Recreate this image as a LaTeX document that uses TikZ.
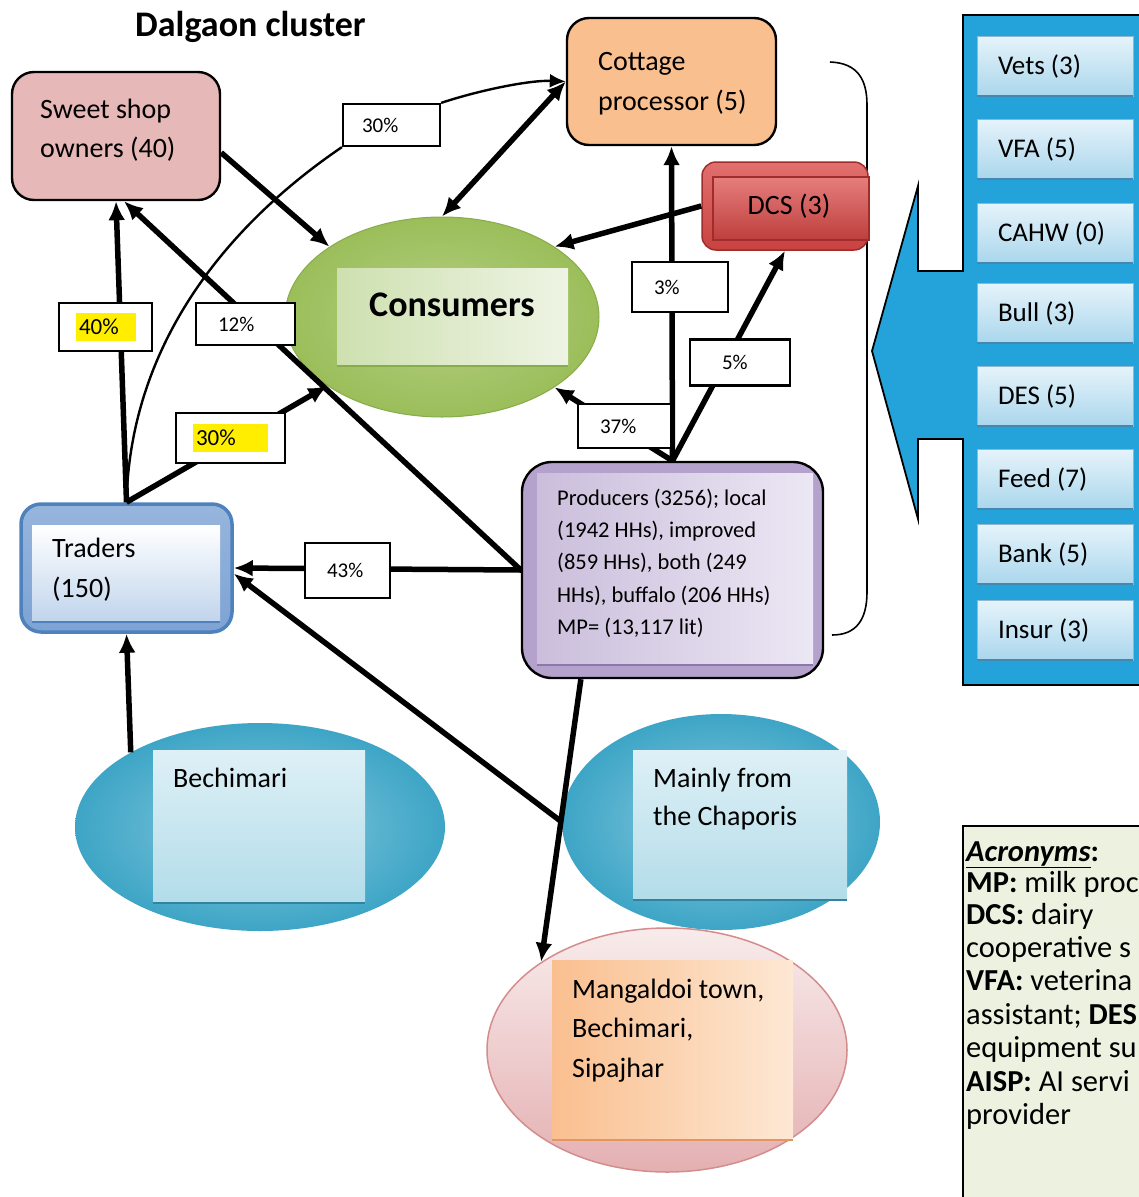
\documentclass[tikz,border=0pt]{standalone}
\usepackage{fontspec}
\setmainfont{Carlito}
\usetikzlibrary{arrows.meta,shapes.geometric,calc}

\definecolor{sweetfill}{RGB}{230,184,183}
\definecolor{cottfill}{RGB}{250,191,143}
\definecolor{dcsred}{RGB}{200,66,64}
\definecolor{dcslight}{RGB}{226,112,110}
\definecolor{dcsedge}{RGB}{160,44,44}
\definecolor{consgreen}{RGB}{155,190,90}
\definecolor{consedge}{RGB}{135,172,75}
\definecolor{conslight}{RGB}{238,244,228}
\definecolor{consmid}{RGB}{206,224,176}
\definecolor{prodfill}{RGB}{180,162,204}
\definecolor{prodlight}{RGB}{236,231,244}
\definecolor{prodedge}{RGB}{140,118,170}
\definecolor{tradeedge}{RGB}{79,129,189}
\definecolor{trademid}{RGB}{125,163,212}
\definecolor{tradelight}{RGB}{192,212,236}
\definecolor{ellteal}{RGB}{62,165,198}
\definecolor{elllight}{RGB}{135,202,222}
\definecolor{boxcyan}{RGB}{222,240,246}
\definecolor{boxcyandark}{RGB}{160,212,228}
\definecolor{pinkfill}{RGB}{244,222,222}
\definecolor{pinkdark}{RGB}{228,176,178}
\definecolor{pinkedge}{RGB}{212,140,140}
\definecolor{orangelight}{RGB}{253,232,212}
\definecolor{orangeedge}{RGB}{228,150,96}
\definecolor{panelblue}{RGB}{36,162,218}
\definecolor{sidetop}{RGB}{230,244,251}
\definecolor{sidebot}{RGB}{170,214,236}
\definecolor{sideedge}{RGB}{70,135,175}
\definecolor{acrofill}{RGB}{236,241,224}
\definecolor{hilite}{RGB}{255,238,0}

\newcommand\fmain{\fontsize{28}{34}\selectfont}
\newcommand\fprod{\fontsize{22.5}{27}\selectfont}
\newcommand\fpct{\fontsize{21}{25}\selectfont}
\newcommand\fpcthi{\fontsize{23}{27}\selectfont}
\newcommand\ftitle{\fontsize{36}{42}\selectfont\bfseries}
\newcommand\fcons{\fontsize{36}{42}\selectfont\bfseries}
\newcommand\fside{\fontsize{27}{32}\selectfont}
\newcommand\facro{\fontsize{30.5}{33}\selectfont}

\begin{document}
\begin{tikzpicture}[x=1pt,y=-1pt,
  flow/.style={line width=5.5pt,-{Latex[length=19pt,width=17pt]}},
  flowboth/.style={line width=5.5pt,{Latex[length=19pt,width=17pt]}-{Latex[length=19pt,width=17pt]}},
  thinline/.style={line width=2.4pt},
  thinflow/.style={line width=2.4pt,-{Latex[length=16pt,width=14pt]}},
  txt/.style={anchor=base west,inner sep=0pt,font=\fmain},
  ptxt/.style={anchor=base west,inner sep=0pt,font=\fprod},
  labbox/.style={draw,fill=white,line width=2.2pt,inner ysep=0pt,align=flush left,font=\fpct},
  hibox/.style={fill=hilite,inner ysep=0pt,inner xsep=3pt,align=flush left,font=\fpcthi,minimum height=28pt},
  roundbox/.style={draw,line width=2.4pt,rounded corners=22pt,inner sep=0pt},
  innerrect/.style={draw=none,inner sep=0pt},
  blob/.style={ellipse,inner sep=0pt},
  sidebox/.style={draw=sideedge!60,line width=0.8pt,top color=sidetop,bottom color=sidebot,
    minimum width=156pt,minimum height=60pt,inner xsep=21pt,text width=114pt,align=flush left,font=\fside},
]
\useasboundingbox (0,0) rectangle (1139,1197);
\clip (0,0) rectangle (1139,1197);

% ---------- title ----------
\node[anchor=base west,inner sep=0pt,font=\ftitle] (title) at (135,36) {Dalgaon cluster};

% ---------- main actors ----------
\node[roundbox,fill=sweetfill,minimum width=208pt,minimum height=128pt] (sweet) at (116,136) {};
\node[txt] (sweetA) at (40,118) {Sweet shop};
\node[txt] (sweetB) at (40,157) {owners (40)};

\node[roundbox,fill=cottfill,minimum width=209pt,minimum height=127pt] (cottage) at (671.5,81.5) {};
\node[txt] (cottA) at (598,70) {Cottage};
\node[txt] (cottB) at (598,110) {processor (5)};

% bracket grouping the producer side
\draw[line width=1.6pt] (830,62) .. controls (858,63) and (867,80) .. (867,105)
  -- (867,592) .. controls (867,620) and (856,635) .. (832,635);

% dairy cooperative society
\node[draw=dcsedge,line width=1.5pt,rounded corners=14pt,top color=dcslight,bottom color=dcsred,
  minimum width=166pt,minimum height=88pt,inner sep=0pt] (dcs) at (785,206) {};
\node[draw=dcsedge,line width=1.2pt,top color=dcslight!90!white,bottom color=dcsred!95!black,
  minimum width=156pt,minimum height=63pt,inner sep=0pt] (dcsface) at (791,208.5) {};
\node[inner sep=0pt,font=\fmain] (dcsT) at (789,206) {DCS (3)};

% consumers
\node[blob,draw=consedge,line width=1pt,inner color=consgreen!75!white,outer color=consgreen,
  minimum width=314pt,minimum height=200pt] (consumers) at (442,317) {};
\node[innerrect,left color=consmid,right color=conslight,minimum width=231pt,minimum height=98pt] (consbox) at (452.5,317) {};
\draw[consedge,line width=2pt] (consbox.south west) -- (consbox.south east);
\node[inner sep=0pt,font=\fcons] (consT) at (452,305) {Consumers};

% producers
\node[roundbox,fill=prodfill,minimum width=301pt,minimum height=216pt,rounded corners=30pt] (producers) at (672.5,570) {};
\node[innerrect,left color=prodfill!70!white,right color=prodlight,minimum width=276pt,minimum height=192pt] (prodbox) at (675,569) {};
\draw[prodedge,line width=2.5pt] (prodbox.south west) -- (prodbox.south east);
\node[ptxt] (prodA) at (557,505) {Producers (3256); local};
\node[ptxt] (prodB) at (557,537) {(1942 HHs), improved};
\node[ptxt] (prodC) at (557,569) {(859 HHs), both (249};
\node[ptxt] (prodD) at (557,602) {HHs), buffalo (206 HHs)};
\node[ptxt] (prodE) at (557,634) {MP= (13,117 lit)};

% traders
\node[draw=tradeedge,line width=3.5pt,rounded corners=20pt,top color=trademid!80!white,bottom color=trademid,
  minimum width=211pt,minimum height=128pt,inner sep=0pt] (traders) at (126.5,568) {};
\node[innerrect,top color=white,bottom color=tradelight,minimum width=188pt,minimum height=97pt] (tradebox) at (126,573.5) {};
\draw[tradeedge,line width=2.5pt] (tradebox.south west) -- (tradebox.south east);
\node[txt] (tradeA) at (52,557) {Traders};
\node[txt] (tradeB) at (52,597) {(150)};

% sources and destinations
\node[blob,inner color=elllight,outer color=ellteal,minimum width=370pt,minimum height=208pt] (bechimari) at (260,827) {};
\node[innerrect,top color=boxcyan,bottom color=boxcyandark!70!boxcyan,minimum width=212pt,minimum height=153pt] (bechbox) at (259,826.5) {};
\draw[ellteal!80!black,line width=2pt] (bechbox.south west) -- (bechbox.south east);
\node[txt] (bechT) at (173,787) {Bechimari};

\node[blob,inner color=elllight,outer color=ellteal,minimum width=318pt,minimum height=216pt] (chaporis) at (721,822) {};
\node[innerrect,top color=boxcyan,bottom color=boxcyandark!70!boxcyan,minimum width=214pt,minimum height=150pt] (chapbox) at (740,825) {};
\draw[ellteal!80!black,line width=2pt] (chapbox.south west) -- (chapbox.south east);
\node[txt] (chapA) at (653,787) {Mainly from};
\node[txt] (chapB) at (653,825) {the Chaporis};

\node[blob,draw=pinkedge,line width=1.5pt,top color=pinkfill!60!white,bottom color=pinkdark,
  minimum width=360pt,minimum height=244pt] (mangaldoi) at (667,1050) {};
\node[innerrect,left color=cottfill,right color=orangelight,minimum width=241pt,minimum height=180pt] (mangbox) at (672.5,1050) {};
\draw[orangeedge,line width=2.5pt] (mangbox.south west) -- (mangbox.south east);
\node[txt] (mangA) at (572,998) {Mangaldoi town,};
\node[txt] (mangB) at (572,1037) {Bechimari,};
\node[txt] (mangC) at (572,1077) {Sipajhar};

% ---------- service providers ----------
\draw[line width=1.8pt,fill=panelblue] (1170,15) -- (963,15) -- (963,271) -- (918,271) -- (918,186)
  -- (872,351) -- (918,519) -- (918,439) -- (963,439) -- (963,685) -- (1170,685);
\node[sidebox] (vets) at (1055,66) {Vets (3)};
\node[sidebox] (vfa)  at (1055,149) {VFA (5)};
\node[sidebox] (cahw) at (1055,233) {CAHW (0)};
\node[sidebox] (bull) at (1055,313) {Bull (3)};
\node[sidebox] (des)  at (1055,396) {DES (5)};
\node[sidebox] (feed) at (1055,479) {Feed (7)};
\node[sidebox] (bank) at (1055,554) {Bank (5)};
\node[sidebox] (insur) at (1055,630) {Insur (3)};
\foreach \b in {vets,vfa,cahw,bull,des,feed,bank,insur}
  \draw[sideedge,line width=2pt] (\b.south west) -- (\b.south east);

% ---------- acronyms ----------
\node[draw,line width=1.5pt,fill=acrofill,anchor=north west,minimum width=220pt,minimum height=400pt] (acro) at (962,825) {};
\node[txt,font=\facro] (acA) at (966,861) {\underline{\textbf{\textit{Acronyms}}}\textbf{:}};
\node[txt,font=\facro] (acB) at (966,892) {\textbf{MP:} milk proc};
\node[txt,font=\facro] (acC) at (966,924) {\textbf{DCS:} dairy};
\node[txt,font=\facro] (acD) at (966,957) {cooperative s};
\node[txt,font=\facro] (acE) at (966,990) {\textbf{VFA:} veterina};
\node[txt,font=\facro] (acF) at (966,1024) {assistant; \textbf{DES}};
\node[txt,font=\facro] (acG) at (966,1057) {equipment su};
\node[txt,font=\facro] (acH) at (966,1091) {\textbf{AISP:} AI servi};
\node[txt,font=\facro] (acI) at (966,1124) {provider};

% ---------- flows ----------
\draw[flow] (traders.north) -- (sweet.south);
\draw[flow] (traders.north) -- (consumers.211);
\draw[flow] (sweet.-9) -- (consumers.148);
\draw[flowboth] (cottage.west) -- (consumers.north);
\draw[flow] (dcs.west) -- (consumers.32);
\draw[flow] (producers.north) -- (cottage.south);
\draw[flow] (producers.north) -- (consumers.-32);
\draw[flow] (producers.north) -- (dcs.south);
\draw[flow] (producers.west) -- (traders.east);
\draw[flow] (producers.west) -- (sweet.-83);
\draw[flow] (chaporis.west) -- (traders.-3);
\draw[flow] (producers.230) -- (mangaldoi.145);
\draw[flow] (bechimari.150) -- (traders.south);

% ---------- shares ----------
\node[labbox,minimum width=93pt,minimum height=48pt,text width=87pt,inner xsep=3pt] (l40) at (105.5,327) {};
\node[hibox,text width=54pt] (l40h) at (106,327) {40\%};
\node[labbox,minimum height=42pt,inner xsep=22pt,text width=55pt] (l12) at (245.5,324) {12\%};
\node[labbox,minimum width=109pt,minimum height=50pt,text width=103pt,inner xsep=3pt] (l30b) at (230.5,438) {};
\node[hibox,text width=69pt] (l30bh) at (230.5,438) {30\%};
\node[labbox,minimum height=55pt,inner xsep=22pt,text width=41pt] (l43) at (347.5,570.5) {43\%};
\node[labbox,minimum height=50pt,inner xsep=22pt,text width=52pt] (l3) at (680,287) {3\%};
\node[labbox,minimum height=44pt,inner xsep=22pt,text width=49pt] (l37) at (624.5,426) {37\%};
\node[labbox,minimum height=46pt,inner xsep=32pt,text width=36pt] (l5) at (740,362.5) {5\%};
\node[labbox,minimum height=42pt,inner xsep=19pt,text width=59pt] (l30a) at (391.5,125) {30\%};

% thin route from traders to the cottage processor
\draw[thinline] (traders.north) .. controls (130,350) and (220,230) .. (l30a.south west);
\draw[thinflow] (l30a.north east) .. controls (480,90) and (530,80) .. (cottage.west);
\end{tikzpicture}
\end{document}
